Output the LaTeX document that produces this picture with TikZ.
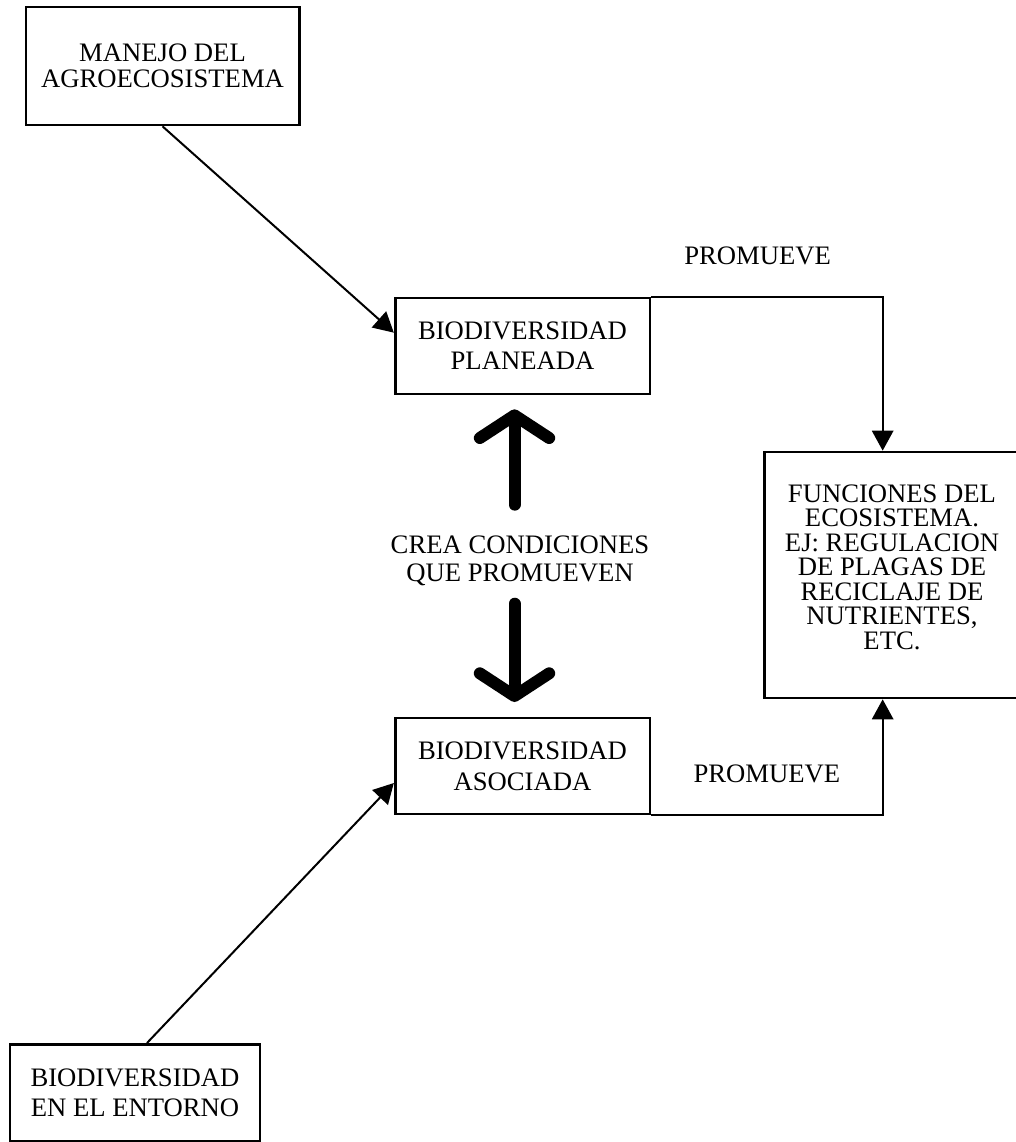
\documentclass[tikz,border=0pt]{standalone}
\usepackage{fontspec}
\setmainfont{Liberation Serif}
\usetikzlibrary{arrows.meta}

\tikzset{
  caja/.style={draw, line width=2pt, align=center, inner sep=0pt,
    minimum width=191pt, minimum height=72pt},
  flecha/.style={-{Triangle[width=16pt,length=15pt]}, line width=1.5pt},
  gruesa/.style={-{Straight Barb[round,length=17pt,width=52pt]}, line width=9pt, line cap=round},
}

\begin{document}
\begin{tikzpicture}[x=0.75pt, y=-0.75pt, font=\fontsize{20}{22.5}\selectfont]
    \useasboundingbox (0,0) rectangle (1016,1142);

    % cajas
    \node[caja, minimum width=205pt, minimum height=88.5pt,
      font=\fontsize{20}{19.5}\selectfont] (manejo) at (162.5,66) {MANEJO DEL\\AGROECOSISTEMA};
    \node[caja] (planeada) at (522.5,346) {BIODIVERSIDAD\\PLANEADA};
    \node[caja, font=\fontsize{20}{23}\selectfont] (asociada) at (522.5,766) {BIODIVERSIDAD\\ASOCIADA};
    \node[caja, minimum height=184.5pt, text depth=12pt,
      font=\fontsize{20}{18.4}\selectfont] (funciones) at (892,575)
      {FUNCIONES DEL\\ECOSISTEMA.\\EJ: REGULACION\\DE PLAGAS DE\\RECICLAJE DE\\NUTRIENTES,\\ETC.};
    \node[caja, minimum width=187.5pt, minimum height=73pt] (entorno) at (135,1093)
      {BIODIVERSIDAD\\EN EL ENTORNO};
    \node[align=center, font=\fontsize{20}{21}\selectfont] (crea) at (520,561)
      {CREA CONDICIONES\\QUE PROMUEVEN};

    % flechas finas
    \draw[flecha] (manejo.south) -- ([yshift=10pt]planeada.west);
    \draw[flecha] ([xshift=9pt]entorno.north) -- ([yshift=-12.75pt]asociada.west);
    \draw[flecha] (planeada.north east) -| node[pos=0.23, above=20pt] {PROMUEVE} ([xshift=-7pt]funciones.north);
    \draw[flecha] (asociada.south east) -| node[pos=0.25, above=20pt] {PROMUEVE} ([xshift=-7pt]funciones.south);

    % flechas gruesas
    \draw[gruesa, shorten <=20pt, shorten >=10.5pt] ([xshift=-6pt]planeada.south |- crea.north) -- ([xshift=-6pt]planeada.south);
    \draw[gruesa, shorten <=9.75pt, shorten >=11pt] ([xshift=-6pt]asociada.north |- crea.south) -- ([xshift=-6pt]asociada.north);
\end{tikzpicture}
\end{document}
